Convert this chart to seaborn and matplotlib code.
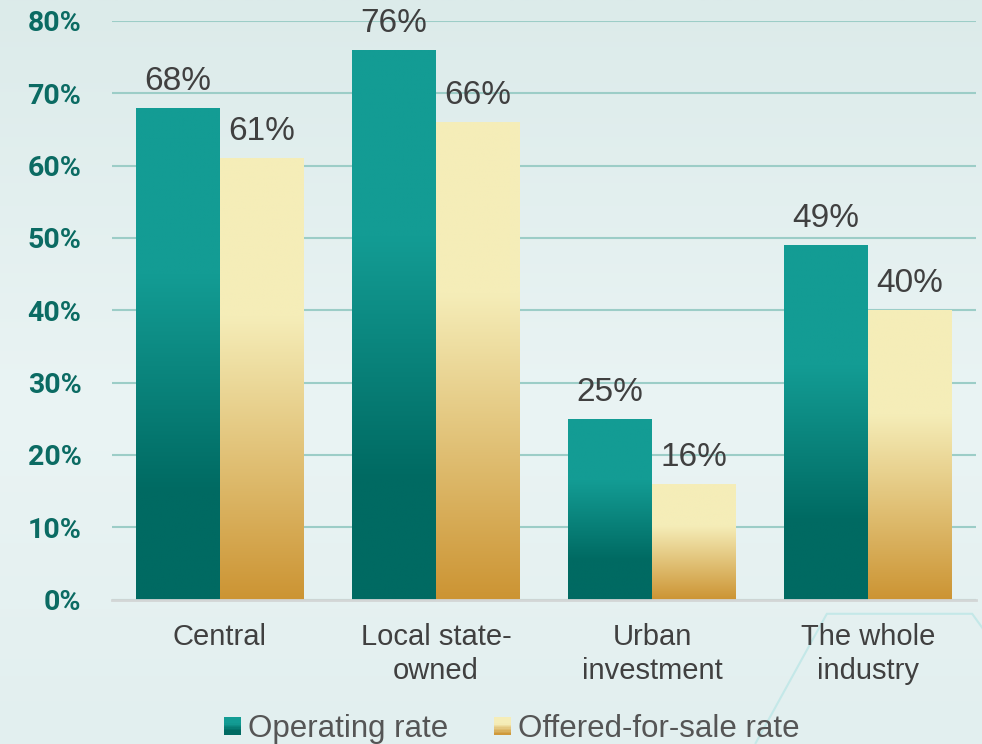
import numpy as np
import pandas as pd
import matplotlib
matplotlib.use("Agg")
import matplotlib.pyplot as plt
from matplotlib.colors import LinearSegmentedColormap
from matplotlib.patches import Rectangle, Polygon
from matplotlib.legend_handler import HandlerBase
from matplotlib.ticker import PercentFormatter
import seaborn as sns

# ---- data -------------------------------------------------------------
categories = ["Central", "Local state-\nowned", "Urban\ninvestment", "The whole\nindustry"]
series_names = ["Operating rate", "Offered-for-sale rate"]
operating_rate = [68, 76, 25, 49]
offered_for_sale_rate = [61, 66, 16, 40]
y_ticks = [0, 10, 20, 30, 40, 50, 60, 70, 80]

df = pd.DataFrame({
    "category": categories * 2,
    "series": [series_names[0]] * len(categories) + [series_names[1]] * len(categories),
    "value": operating_rate + offered_for_sale_rate,
})

# ---- style ------------------------------------------------------------
sns.set_theme(style="white")
plt.rcParams["font.family"] = ["Liberation Sans", "DejaVu Sans"]

TEXT = "#404040"
TICK_TEAL = "#0B6B63"
GRID = "#9CCDC7"

teal_cmap = LinearSegmentedColormap.from_list(
    "teal", [(0.0, "#006A62"), (0.22, "#006A62"), (0.66, "#139C94"), (1.0, "#139C94")])
gold_cmap = LinearSegmentedColormap.from_list(
    "gold", [(0.0, "#CC9433"), (0.64, "#F5EDB8"), (1.0, "#F5EDB8")])
cmaps = [teal_cmap, gold_cmap]

fig = plt.figure(figsize=(9.82, 7.44), dpi=100)

# soft background wash
bg_ax = fig.add_axes([0, 0, 1, 1], zorder=-10)
bg_cmap = LinearSegmentedColormap.from_list(
    "bg", [(0.0, "#E2EFEF"), (0.45, "#EAF4F4"), (1.0, "#DCEBEA")])
bg_ax.imshow(np.linspace(0, 1, 256).reshape(-1, 1), cmap=bg_cmap, aspect="auto",
             origin="lower", extent=[0, 1, 0, 1])
# faint hexagon outline decoration in the lower right corner
bg_ax.add_patch(Polygon([(0.769, 0.0), (0.842, 0.175), (0.990, 0.175), (1.02, 0.12)],
                        closed=False, fill=False, edgecolor="#C4E8E8", lw=1.5))
bg_ax.set_xlim(0, 1)
bg_ax.set_ylim(0, 1)
bg_ax.axis("off")

ax = fig.add_axes([0.114, 0.194, 0.880, 0.778])
ax.patch.set_alpha(0)

sns.barplot(data=df, x="category", y="value", hue="series", hue_order=series_names,
            order=categories, width=0.775, gap=0, ax=ax, legend=False,
            edgecolor="none", linewidth=0, saturation=1)

# gradient fill for each bar, clipped to the bar rectangle
grad = np.linspace(0, 1, 256).reshape(-1, 1)
for cont, cmap in zip(ax.containers, cmaps):
    for bar in cont:
        x, w, h = bar.get_x(), bar.get_width(), bar.get_height()
        im = ax.imshow(grad, cmap=cmap, aspect="auto", origin="lower",
                       extent=[x, x + w, 0, h], zorder=2, interpolation="bilinear")
        im.set_clip_path(bar)
        bar.set_facecolor("none")
    ax.bar_label(cont, labels=[f"{v:.0f}%" for v in cont.datavalues], padding=8,
                 fontsize=24, color=TEXT)

ax.set_xlim(-0.5, 3.5)
ax.set_ylim(0, 80)
ax.set_yticks(y_ticks)
ax.yaxis.set_major_formatter(PercentFormatter(decimals=0))
ax.set_xlabel("")
ax.set_ylabel("")

ax.grid(axis="y", color=GRID, lw=1.5, zorder=0)
ax.set_axisbelow(True)
for side in ["top", "right", "left"]:
    ax.spines[side].set_visible(False)
ax.spines["bottom"].set_color("#D3D6D6")
ax.spines["bottom"].set_linewidth(2)
ax.spines["bottom"].set_zorder(3)

ax.tick_params(axis="y", length=0, pad=22)
ax.tick_params(axis="x", length=0, pad=17)
for lab in ax.get_yticklabels():
    lab.set_fontfamily("Roboto")
    lab.set_fontweight("bold")
    lab.set_fontsize(20.5)
    lab.set_color(TICK_TEAL)
for lab in ax.get_xticklabels():
    lab.set_fontsize(21)
    lab.set_color(TEXT)
    lab.set_linespacing(1.25)


class GradientSquare(HandlerBase):
    def __init__(self, cmap, steps=12):
        super().__init__()
        self.cmap = cmap
        self.steps = steps

    def create_artists(self, legend, orig_handle, xdescent, ydescent,
                       width, height, fontsize, trans):
        side = min(width, height)
        x0 = -xdescent + (width - side) / 2
        y0 = -ydescent + (height - side) / 2
        arts = []
        for i in range(self.steps):
            frac = (i + 0.5) / self.steps
            r = Rectangle((x0, y0 + side * i / self.steps), side, side / self.steps + 0.3,
                          facecolor=self.cmap(frac), edgecolor="none", transform=trans)
            arts.append(r)
        return arts


handles = [Rectangle((0, 0), 1, 1), Rectangle((0, 0), 1, 1)]
leg = fig.legend(handles, series_names, loc="center", bbox_to_anchor=(0.521, 0.02),
                 ncol=2, frameon=False, fontsize=22.5, handlelength=0.55,
                 handleheight=0.55, handletextpad=0.22, columnspacing=1.45,
                 borderpad=0, labelcolor="#555555",
                 handler_map={handles[0]: GradientSquare(teal_cmap),
                              handles[1]: GradientSquare(gold_cmap)})

fig.savefig("out.png", dpi=100)
